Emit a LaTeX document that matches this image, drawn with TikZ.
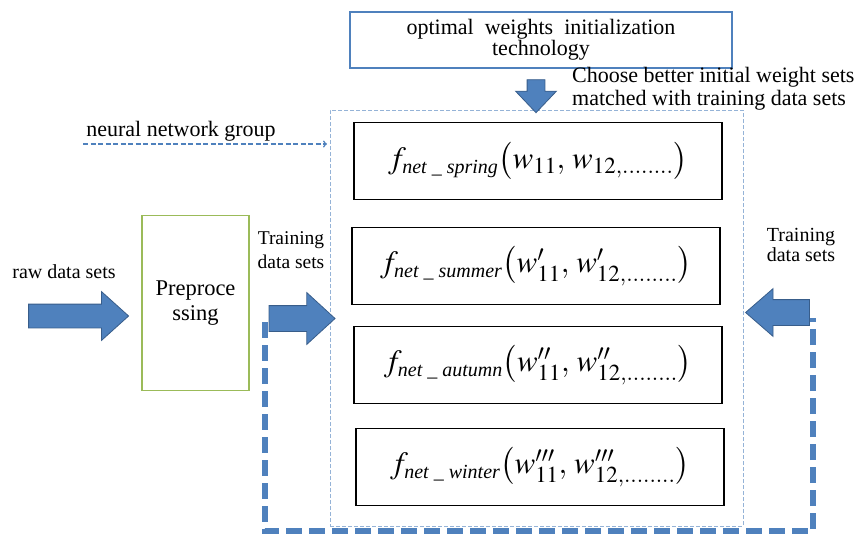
\documentclass[tikz,border=0pt]{standalone}
\usepackage{mathptmx}
\usepackage[no-math]{fontspec}
\setmainfont{Liberation Serif}
\usetikzlibrary{shapes.arrows}

\definecolor{arrowblue}{HTML}{4F81BD}
\definecolor{arrowedge}{HTML}{385D8A}
\definecolor{groupblue}{HTML}{95B3D7}
\definecolor{prepgreen}{HTML}{9BBB59}

\newcommand{\fnet}[2]{$f_{\mbox{\fontsize{20}{20}\selectfont\itshape net \_ #1}}\bigl(w#2_{11},\,w#2_{12,........}\bigr)$}

\begin{document}
\begin{tikzpicture}[x=1pt, y=-1pt]
\tikzset{fb/.style={draw, line width=1.8pt, minimum width=368pt, minimum height=77pt, inner sep=0pt, font=\fontsize{31}{36}\selectfont},
 blk/.style={single arrow, draw=arrowedge, line width=0.8pt, fill=arrowblue, inner xsep=0pt, single arrow head indent=0pt},
 lbl/.style={align=center, inner sep=0pt}}

\useasboundingbox (0,0) rectangle (867,536);

% Neural network group
\node[draw=groupblue, line width=1pt, dash pattern=on 4pt off 2pt, minimum width=413pt, minimum height=416pt] (group) at (536.5,318) {};

% Weights initialization
\node[draw=arrowblue, line width=1.5pt, minimum width=382pt, minimum height=56pt, align=center, font=\fontsize{22}{20}\selectfont] (owit) at (541,40)
{optimal\ \ weights\ \ initialization\\technology};
\node[blk, minimum height=33pt, inner sep=8.5pt, single arrow head extend=11.5pt, single arrow tip angle=87, shape border rotate=270] (downarr) at (536,91.5) {};
\node[lbl, anchor=west, align=left, font=\fontsize{22}{23}\selectfont] (choose) at (572,89)
{Choose better initial weight sets\\matched with training data sets};

% Member networks
\node[fb] (spring) at (538,161) {\fnet{spring}{}};
\node[fb] (summer) at (536,266) {\fnet{summer}{^{\prime}}};
\node[fb] (autumn) at (538,365) {\fnet{autumn}{^{\prime\prime}}};
\node[fb] (winter) at (540,467) {\fnet{winter}{^{\prime\prime\prime}}};

\node[lbl, font=\fontsize{22}{22}\selectfont] (nnglabel) at (181,131) {neural network group};
\coordinate (nngstart) at (83,144);
\coordinate (nngtip) at (327,144);

% Input side
\node[lbl, font=\fontsize{20}{20}\selectfont] (rawlabel) at (64,272) {raw data sets};
\node[blk, minimum height=100pt, inner ysep=11.5pt, single arrow head extend=12.5pt, single arrow tip angle=84] (rawarr) at (72,316) {};
\node[draw=prepgreen, line width=1.8pt, minimum width=107pt, minimum height=175pt, align=center, font=\fontsize{22.5}{25}\selectfont] (prep) at (195.5,303)
{Preproce\\ssing};
\node[lbl, font=\fontsize{19.5}{24}\selectfont] (trainltxt) at (291,250) {Training\\data sets};
\node[lbl, font=\fontsize{20}{20}\selectfont] (trainrtxt) at (801,245) {Training\\data sets};

% Feedback loop
\coordinate (loopb) at (540,531);
\draw[draw=arrowblue, line width=6pt, dash pattern=on 16pt off 7pt] (265,322) |- (loopb) -| (813,318);

\node[blk, minimum height=66pt, inner ysep=12.5pt, single arrow head extend=13pt, single arrow tip angle=85] (trainl) at (295,318.5) {};
\node[blk, minimum height=64pt, inner ysep=12.5pt, single arrow head extend=11pt, single arrow tip angle=82, shape border rotate=180] (trainr) at (785,312.5) {};

% Connections
\draw[->, draw=arrowblue, line width=1.5pt, dash pattern=on 5pt off 2.5pt] (nngstart) -- (nngtip);

\end{tikzpicture}
\end{document}
